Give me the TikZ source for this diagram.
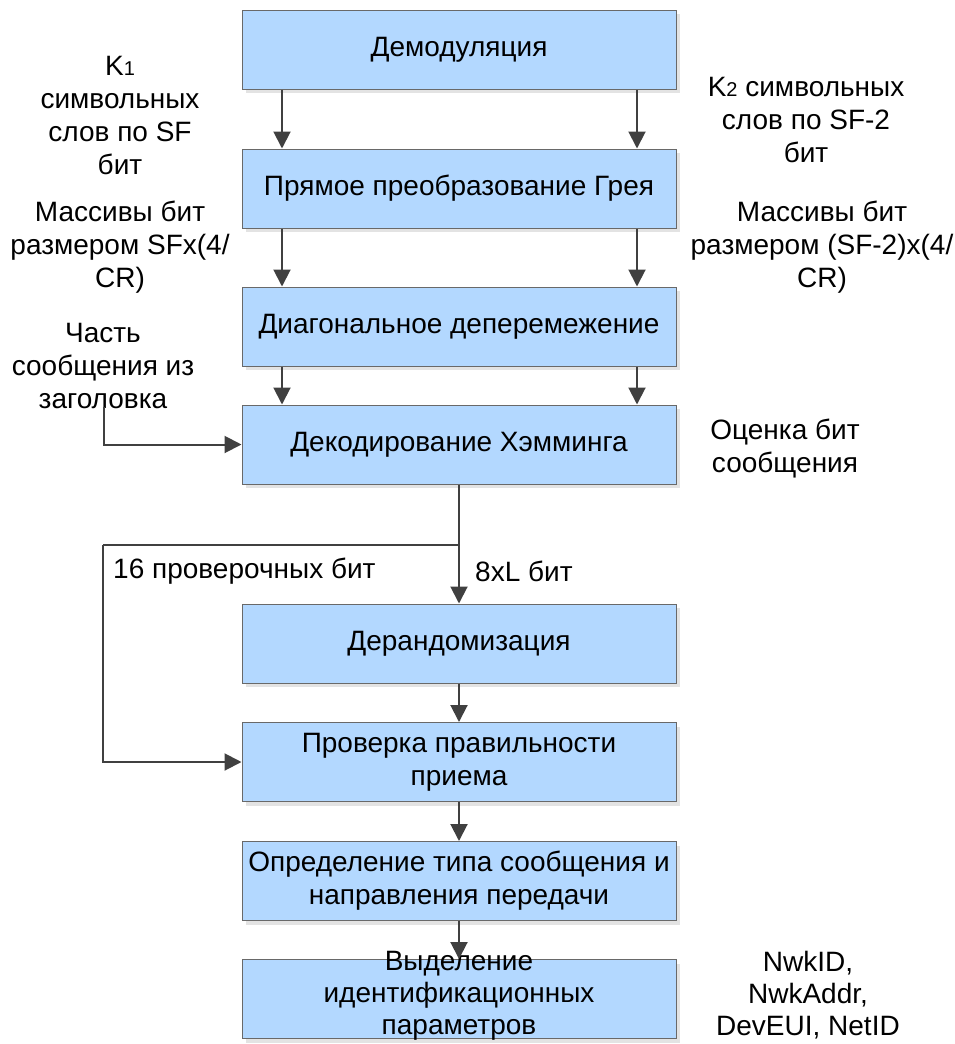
\documentclass[tikz,border=0pt]{standalone}
\usepackage{fontspec}
\setmainfont{Liberation Sans}
\usepackage{xcolor}
\usetikzlibrary{arrows.meta,shadows}
\definecolor{blockblue}{RGB}{179,216,255}
\definecolor{edgegray}{RGB}{105,105,105}
\definecolor{arrowgray}{RGB}{64,64,64}

\begin{document}
\begin{tikzpicture}[x=1pt,y=-1pt,
	block/.style={draw=edgegray,fill=blockblue,line width=1pt,minimum width=434pt,minimum height=79pt,inner sep=0pt,align=center,font=\fontsize{28}{33}\selectfont,
		drop shadow={shadow xshift=4pt,shadow yshift=-4pt,fill=black!11,opacity=1}},
	txt/.style={align=center,inner sep=0pt,font=\fontsize{28}{33}\selectfont},
	tight/.style={txt,font=\fontsize{28}{32}\selectfont},
	arr/.style={arrowgray,line width=2pt,-{Triangle[width=17pt,length=17pt]}}]
	\useasboundingbox (0,0) rectangle (955,1044);

	%blocks
	\node[block](demod) at (459,49.5) {Демодуляция};
	\node[block](gray) at (459,188.5) {Прямое преобразование Грея};
	\node[block](deint) at (459,326.5) {Диагональное деперемежение};
	\node[block](hamm) at (459,444.5) {Декодирование Хэмминга};
	\node[block](derand) at (459,643.5) {Дерандомизация};
	\node[block](check) at (459,762) {Проверка правильности\\приема};
	\node[block](msgtype) at (459,881) {Определение типа сообщения и\\направления передачи};
	\node[block](ident) at (459,999) {};
	\node[tight](identtxt) at (459,996) {Выделение\\идентификационных\\параметров};

	%two streams
	\draw[arr] ([xshift=-177pt]demod.south) -- ([xshift=-177pt]gray.north);
	\draw[arr] ([xshift=178pt]demod.south) -- ([xshift=178pt]gray.north);
	\draw[arr] ([xshift=-177pt]gray.south) -- ([xshift=-177pt]deint.north);
	\draw[arr] ([xshift=178pt]gray.south) -- ([xshift=178pt]deint.north);
	\draw[arr] ([xshift=-177pt]deint.south) -- ([xshift=-177pt]hamm.north);
	\draw[arr] ([xshift=178pt]deint.south) -- ([xshift=178pt]hamm.north);

	%stream labels
	\node[txt](k1) at (120,116) {K{\fontsize{20}{20}\selectfont 1}\\символьных\\слов по SF\\бит};
	\node[txt](k2) at (806,120) {K{\fontsize{20}{20}\selectfont 2} символьных\\слов по SF-2\\бит};
	\node[txt](arr1) at (120,247) {Массивы бит\\размером SFx(4/\\CR)};
	\node[txt](arr2) at (822,247) {Массивы бит\\размером (SF-2)x(4/\\CR)};

	%header part
	\node[txt](hdrtxt) at (103,366) {Часть\\сообщения из\\заголовка};
	\coordinate (hdr) at (104,407);
	\draw[arr] (hdr) |- (hamm.west);
	\node[txt](est) at (785,449) {Оценка бит\\сообщения};

	%split after decoding
	\coordinate (fork) at (459,545);
	\coordinate (bend) at (103,545);
	\draw[arr] (hamm.south) -- (derand.north);
	\draw[arrowgray,line width=2pt] (fork) -- (bend);
	\draw[arr] (bend) |- (check.west);
	\node[txt,anchor=west](crc) at (113,571) {16 проверочных бит};
	\node[txt,anchor=west](payload) at (475,571) {8xL бит};

	%lower chain
	\draw[arr] (derand) -- (check);
	\draw[arr] (check) -- (msgtype);
	\draw[arr] (msgtype) -- (ident);

	%identifiers
	\node[tight](ids) at (808,995) {NwkID,\\NwkAddr,\\DevEUI, NetID};
\end{tikzpicture}
\end{document}
